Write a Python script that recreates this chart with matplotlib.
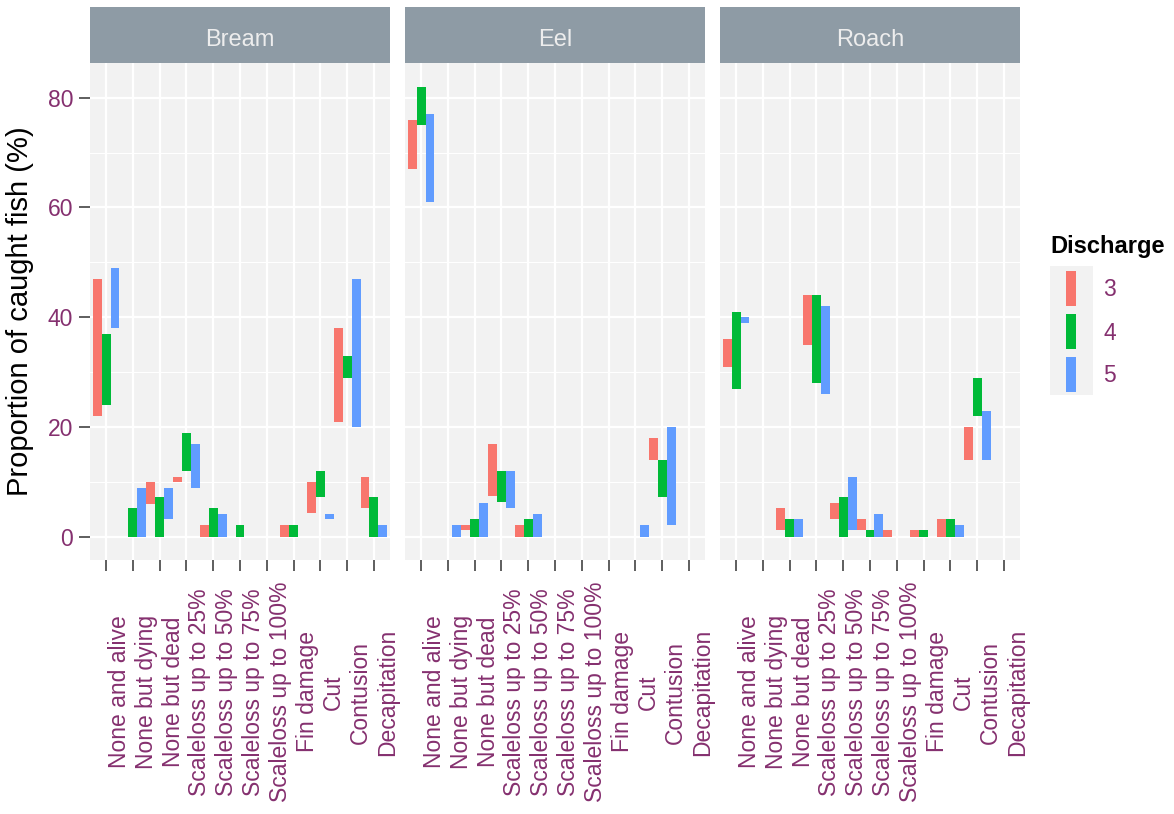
import numpy as np
import matplotlib
matplotlib.use("Agg")
import matplotlib.pyplot as plt
from matplotlib import transforms
from matplotlib.patches import Rectangle

plt.rcParams['font.family'] = ['Liberation Sans', 'DejaVu Sans']

# ---- data ----
categories = ["None and alive", "None but dying", "None but dead",
              "Scaleloss up to 25%", "Scaleloss up to 50%", "Scaleloss up to 75%",
              "Scaleloss up to 100%", "Fin damage", "Cut", "Contusion", "Decapitation"]
fish = ["Bream", "Eel", "Roach"]
discharge = ["3", "4", "5"]
colors = ["#F8766D", "#00BA38", "#619CFF"]
nan = np.nan

# rows = discharge 3, 4, 5 ; columns = categories
bream_low = [[22, nan, 6, 10, 0, nan, nan, 0, 4.3, 21, 5.3],
             [24, 0, 0, 12, 0, 0, nan, 0, 7.3, 29, 0],
             [38, 0, 3.3, 9, 0, nan, nan, nan, 3.3, 20, 0]]
bream_high = [[47, nan, 10, 11, 2.2, nan, nan, 2.2, 10, 38, 11],
              [37, 5.2, 7.2, 19, 5.2, 2.2, nan, 2.2, 12, 33, 7.2],
              [49, 9, 9, 17, 4.2, nan, nan, nan, 4.2, 47, 2.2]]

eel_low = [[67, nan, 1.2, 7.4, 0, nan, nan, nan, nan, 14, nan],
           [75, nan, 0, 6.3, 0, nan, nan, nan, nan, 7.3, nan],
           [61, 0, 0, 5.3, 0, nan, nan, nan, 0, 2.2, nan]]
eel_high = [[76, nan, 2.2, 17, 2.2, nan, nan, nan, nan, 18, nan],
            [82, nan, 3.2, 12, 3.2, nan, nan, nan, nan, 14, nan],
            [77, 2.2, 6.2, 12, 4.2, nan, nan, nan, 2.2, 20, nan]]

roach_low = [[31, nan, 1.2, 35, 3.3, 1.2, 0, 0, 0, 14, nan],
             [27, nan, 0, 28, 0, 0, nan, 0, 0, 22, nan],
             [39, nan, 0, 26, 1.2, 0, nan, nan, 0, 14, nan]]
roach_high = [[36, nan, 5.2, 44, 6.2, 3.2, 1.2, 1.2, 3.2, 20, nan],
              [41, nan, 3.2, 44, 7.2, 1.2, nan, 1.2, 3.2, 29, nan],
              [40, nan, 3.2, 42, 11, 4.2, nan, nan, 2.2, 23, nan]]

lows = {"Bream": bream_low, "Eel": eel_low, "Roach": roach_low}
highs = {"Bream": bream_high, "Eel": eel_high, "Roach": roach_high}

# ---- styling ----
W, H = 1174, 814
label_col = "#85306F"
panel_bg = "#F2F2F2"
strip_bg = "#8E9BA5"

fig = plt.figure(figsize=(W / 100, H / 100), dpi=100)

panel_left = [90, 405, 720]
panel_w = 300
panel_top, panel_bot = 63, 559.5
strip_top = 7

x = np.arange(len(categories))
bw = 1 / 3

for k, name in enumerate(fish):
    ax = fig.add_axes([panel_left[k] / W, 1 - panel_bot / H, panel_w / W, (panel_bot - panel_top) / H])
    ax.set_facecolor(panel_bg)
    for s in ax.spines.values():
        s.set_visible(False)
    ax.set_xlim(-0.6, len(categories) - 0.4)
    ax.set_ylim(-4.1, 86.3)
    ax.set_xticks(x)
    ax.set_xticklabels([])
    ax.set_yticks([0, 20, 40, 60, 80])
    ax.set_yticks([10, 30, 50, 70], minor=True)
    ax.grid(True, which='major', color='white', lw=1.6)
    ax.grid(True, which='minor', axis='y', color='white', lw=0.8)
    ax.set_axisbelow(True)
    ax.tick_params(axis='both', which='major', direction='out', length=8, width=1.1,
                   color='#333333', labelsize=16.5, labelcolor=label_col, pad=4)
    ax.tick_params(axis='y', which='minor', length=0)
    if k > 0:
        ax.tick_params(axis='y', which='major', length=0, labelleft=False)
    else:
        ax.set_ylabel("Proportion of caught fish (%)", fontsize=21, labelpad=10)

    lo = np.array(lows[name], dtype=float)
    hi = np.array(highs[name], dtype=float)
    for d in range(len(discharge)):
        ok = ~np.isnan(lo[d])
        ax.bar(x[ok] + (d - 1) * bw, hi[d][ok] - lo[d][ok], bottom=lo[d][ok],
               width=bw, color=colors[d], linewidth=0, zorder=3)

    # category labels, rotated, centred vertically around a common line
    tr = transforms.blended_transform_factory(ax.transData, fig.transFigure)
    tr = tr + transforms.ScaledTranslation(20 / 100, 0, fig.dpi_scale_trans)
    for i, c in enumerate(categories):
        ax.text(i, 1 - 692 / H, c, transform=tr, rotation=90, rotation_mode='anchor',
                ha='center', va='baseline', fontsize=16.5, color=label_col)

    # facet strip
    sax = fig.add_axes([panel_left[k] / W, 1 - panel_top / H, panel_w / W, (panel_top - strip_top) / H])
    sax.set_facecolor(strip_bg)
    sax.set_xticks([])
    sax.set_yticks([])
    for s in sax.spines.values():
        s.set_visible(False)
    sax.text(0.5, 0.41, name, ha='center', va='center', fontsize=17, color='#EDEDED',
             transform=sax.transAxes)

# ---- legend (drawn in pixel space) ----
lax = fig.add_axes([0, 0, 1, 1], zorder=-1)
lax.set_xlim(0, W)
lax.set_ylim(H, 0)
lax.axis('off')
lax.text(1050, 247, "Discharge", fontsize=17, fontweight='bold', ha='left', va='center')
lax.add_patch(Rectangle((1050, 266), 43, 129, facecolor=panel_bg, edgecolor='none'))
for d, lab in enumerate(discharge):
    cy = 288 + 43 * d
    lax.add_patch(Rectangle((1066, cy - 17.5), 10, 35, facecolor=colors[d], edgecolor='none'))
    lax.text(1103, cy + 2, lab, fontsize=16.5, color=label_col, ha='left', va='center')

fig.savefig("out.png", dpi=100)
